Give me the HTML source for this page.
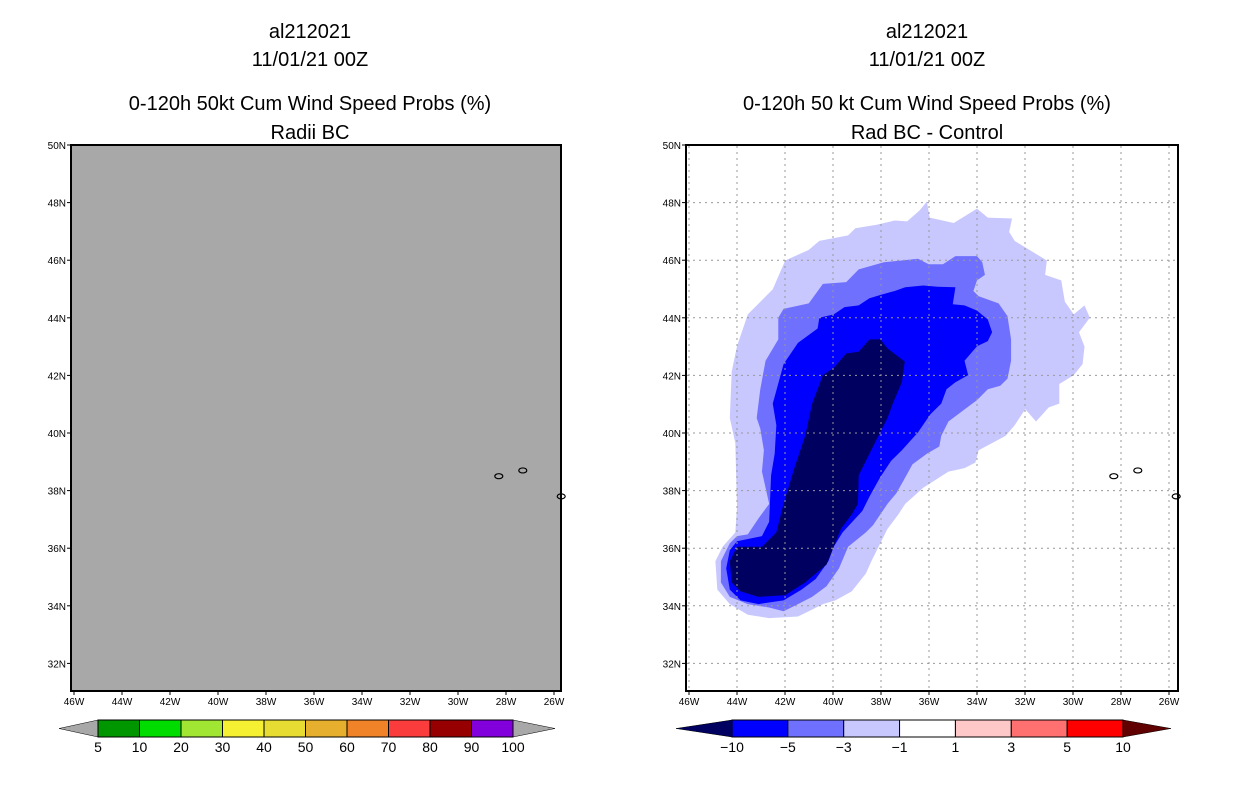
<!DOCTYPE html>
<html><head><meta charset="utf-8"><style>
html,body{margin:0;padding:0;background:#fff;}
svg{display:block;font-family:"Liberation Sans",sans-serif;}
</style></head><body>
<svg id="chart" width="1236" height="800" viewBox="0 0 1236 800">
<g font-size="20" text-anchor="middle" fill="#000">
<text x="310" y="38">al212021</text><text x="310" y="66">11/01/21 00Z</text>
<text x="310" y="110">0-120h 50kt Cum Wind Speed Probs (%)</text><text x="310" y="139">Radii BC</text></g>
<g font-size="20" text-anchor="middle" fill="#000">
<text x="927" y="38">al212021</text><text x="927" y="66">11/01/21 00Z</text>
<text x="927" y="110">0-120h 50 kt Cum Wind Speed Probs (%)</text><text x="927" y="139">Rad BC - Control</text></g>
<rect x="71" y="145" width="490" height="546" fill="#a8a8a8"/>
<g id="rightFill"></g>
<g id="grid"></g>
<g id="islands"></g>
<rect x="71" y="145" width="490" height="546" fill="none" stroke="#000" stroke-width="2"/>
<rect x="686" y="145" width="492" height="546" fill="none" stroke="#000" stroke-width="2"/>
<g id="ticks" font-size="10" fill="#000"></g>
<g id="cbar"></g>
</svg>
<script>
const latTicks=[32,34,36,38,40,42,44,46,48,50];
const lonTicks=[46,44,42,40,38,36,34,32,30,28,26];
const probLevels=["5","10","20","30","40","50","60","70","80","90","100"];
const probColors=["#009600","#00dc00","#a0e632","#f5f032","#e6dc32","#e6af2d","#f08228","#fa3c3c","#960000","#8200dc"];
const diffLevels=["-10","-5","-3","-1","1","3","5","10"];
const diffColors=["#0000ff","#7070ff","#c8c8ff","#ffffff","#ffc8c8","#ff7070","#ff0000"];
const lev1=[[-36.09,48.04],[-35.97,47.48],[-34.97,47.29],[-34.0,47.79],[-33.55,47.48],[-32.54,47.45],[-32.66,46.98],[-32.43,46.67],[-31.09,45.99],[-31.16,45.49],[-30.49,45.30],[-30.34,44.56],[-29.97,44.12],[-29.52,44.43],[-29.30,44.0],[-29.75,43.5],[-29.52,43.0],[-29.6,42.39],[-29.97,42.01],[-30.57,41.7],[-30.57,41.02],[-31.01,40.89],[-31.54,40.4],[-31.99,40.83],[-32.43,40.27],[-32.81,39.9],[-33.93,39.4],[-34.07,38.97],[-34.52,38.78],[-35.19,38.66],[-36.24,38.1],[-36.99,37.54],[-37.28,37.17],[-37.73,36.67],[-38.4,35.55],[-38.63,35.12],[-39.22,34.5],[-39.9,34.19],[-40.42,34.06],[-41.01,33.81],[-41.46,33.63],[-42.66,33.57],[-43.55,33.69],[-44.3,34.06],[-44.82,34.56],[-44.9,35.55],[-44.6,36.05],[-44.07,36.55],[-44.0,37.42],[-44.07,39.65],[-44.3,40.52],[-44.22,42.14],[-44.0,43.01],[-43.55,44.12],[-42.51,44.99],[-41.99,45.99],[-41.01,46.36],[-40.57,46.67],[-39.37,46.86],[-39.07,47.11],[-38.18,47.23],[-37.43,47.38],[-36.91,47.35],[-36.39,47.73]];
const lev3=[[-42.06,44.31],[-41.01,44.5],[-40.42,45.18],[-39.45,45.24],[-38.93,45.68],[-37.88,45.93],[-36.46,46.05],[-36.01,45.86],[-35.42,45.86],[-34.9,46.14],[-34.0,46.14],[-33.78,45.93],[-33.67,45.49],[-34.0,45.3],[-34.15,44.93],[-33.93,44.75],[-33.1,44.5],[-32.73,44.06],[-32.58,43.25],[-32.58,42.51],[-32.73,41.89],[-33.03,41.64],[-33.55,41.52],[-34.0,41.14],[-34.6,40.77],[-35.19,40.4],[-35.49,39.9],[-35.57,39.53],[-36.09,39.28],[-36.69,38.91],[-37.06,38.35],[-37.36,37.91],[-37.73,37.54],[-38.33,36.8],[-38.63,36.55],[-39.37,36.05],[-39.75,35.3],[-40.27,34.68],[-40.87,34.31],[-41.46,34.06],[-42.06,33.81],[-42.66,33.94],[-43.55,34.06],[-44.3,34.31],[-44.67,34.81],[-44.67,35.55],[-44.3,36.17],[-44.0,36.42],[-43.55,36.48],[-43.1,37.04],[-42.66,37.54],[-42.96,38.66],[-42.88,39.4],[-43.03,40.15],[-43.18,40.52],[-43.03,41.52],[-42.81,42.51],[-42.28,43.25],[-42.28,44.0]];
const lev5=[[-40.57,44.0],[-39.97,44.12],[-39.52,44.37],[-38.93,44.43],[-38.48,44.68],[-37.96,44.81],[-37.43,44.93],[-36.99,45.06],[-36.24,45.12],[-35.64,45.08],[-34.9,45.06],[-35.01,44.47],[-34.52,44.43],[-34.0,44.25],[-33.55,43.94],[-33.37,43.5],[-33.55,43.19],[-34.0,43.01],[-34.52,42.51],[-34.37,42.01],[-34.9,41.76],[-35.27,41.52],[-35.49,41.02],[-35.94,40.65],[-36.46,40.02],[-37.13,39.4],[-37.58,39.03],[-38.03,38.47],[-38.48,37.79],[-38.78,37.29],[-39.6,36.55],[-39.97,36.05],[-40.19,35.55],[-40.72,34.93],[-41.31,34.56],[-42.06,34.19],[-43.1,34.06],[-43.85,34.19],[-44.3,34.56],[-44.45,35.3],[-44.3,35.93],[-44.0,36.24],[-42.96,36.42],[-42.66,36.92],[-42.58,38.53],[-42.43,39.28],[-42.36,40.27],[-42.51,41.02],[-42.06,42.39],[-41.46,43.13],[-40.64,43.63]];
const lev10=[[-38.48,43.25],[-38.03,43.25],[-37.73,42.94],[-37.01,42.48],[-37.13,41.76],[-37.51,41.02],[-37.73,40.52],[-38.18,39.78],[-38.48,39.28],[-38.93,38.53],[-38.96,37.54],[-39.22,37.17],[-39.67,36.67],[-39.97,36.05],[-40.27,35.43],[-40.72,35.12],[-41.16,34.81],[-41.99,34.37],[-43.1,34.31],[-43.85,34.5],[-44.22,34.81],[-44.3,35.55],[-44.0,36.05],[-42.96,36.05],[-42.36,36.55],[-42.06,37.54],[-41.61,38.78],[-41.16,39.9],[-40.87,41.02],[-40.42,42.01],[-39.97,42.26],[-39.45,42.76],[-38.93,42.82]];
const islandsLL=[[-28.3,38.5],[-27.3,38.7],[-25.7,37.8]];
const NS="http://www.w3.org/2000/svg";
function mk(t,a,p){const e=document.createElementNS(NS,t);for(const k in a)e.setAttribute(k,a[k]);p.appendChild(e);return e;}
const yS=lat=>145+(50-lat)*28.8;
const xR=lon=>689+(lon+46)*24;
const xL=lon=>74+(lon+46)*24;
const fill=document.getElementById('rightFill');
[[lev1,"#c8c8ff","fill-minus1"],[lev3,"#7070ff","fill-minus3"],[lev5,"#0000ff","fill-minus5"],[lev10,"#000060","fill-minus10"]].forEach(([pts,c,n])=>{
 const p=mk('polygon',{points:pts.map(q=>xR(q[0])+','+yS(q[1])).join(' '),fill:c},fill);
 
 
});
const grid=document.getElementById('grid');
lonTicks.forEach(l=>{const x=xR(-l);const e=mk('line',{x1:x,x2:x,y1:146,y2:690,stroke:'#999','stroke-dasharray':'2,4'},grid);
 
 });
latTicks.forEach(l=>{const y=yS(l);const e=mk('line',{x1:687,x2:1177,y1:y,y2:y,stroke:'#999','stroke-dasharray':'2,4'},grid);
 
 });
const isl=document.getElementById('islands');
[xL,xR].forEach(f=>islandsLL.forEach(q=>{const e=mk('ellipse',{cx:f(q[0]),cy:yS(q[1]),rx:4,ry:2.5,fill:'none',stroke:'#000','stroke-width':1.2},isl);
 
 }));
const tk=document.getElementById('ticks');
[[71,xL],[686,xR]].forEach(([x0,f])=>{
 latTicks.forEach(l=>{const y=yS(l);mk('line',{x1:x0-4,x2:x0,y1:y,y2:y,stroke:'#000'},tk);
  const t=mk('text',{x:x0-5,y:y+4,'text-anchor':'end'},tk);t.textContent=l+'N';
  
  });
 lonTicks.forEach(l=>{const x=f(-l);mk('line',{x1:x,x2:x,y1:691,y2:695,stroke:'#000'},tk);
  const t=mk('text',{x:x,y:705,'text-anchor':'middle'},tk);t.textContent=l+'W';
  
  });
});
const cb=document.getElementById('cbar');
function bar(x0,x1,tipL,tipR,cols,labs,lc,rc){
 const y0=720,y1=737,ym=728.5,w=(x1-x0)/cols.length;
 mk('polygon',{points:`${tipL},${ym} ${x0},${y0} ${x0},${y1}`,fill:lc,stroke:'#000','stroke-width':0.5},cb);
 mk('polygon',{points:`${tipR},${ym} ${x1},${y0} ${x1},${y1}`,fill:rc,stroke:'#000','stroke-width':0.5},cb);
 cols.forEach((c,i)=>{const r=mk('rect',{x:x0+i*w,y:y0,width:w,height:y1-y0,fill:c,stroke:'#000','stroke-width':1},cb);
  
  });
 labs.forEach((s,i)=>{const t=mk('text',{x:x0+i*w,y:752,'text-anchor':'middle','font-size':14},cb);t.textContent=s.replace('-','\u2212');
  
  });
}
bar(98,513,59,555,probColors,probLevels,'#a8a8a8','#a8a8a8');
bar(732,1123,676,1171,diffColors,diffLevels,'#000060','#600000');
</script>
</body></html>
